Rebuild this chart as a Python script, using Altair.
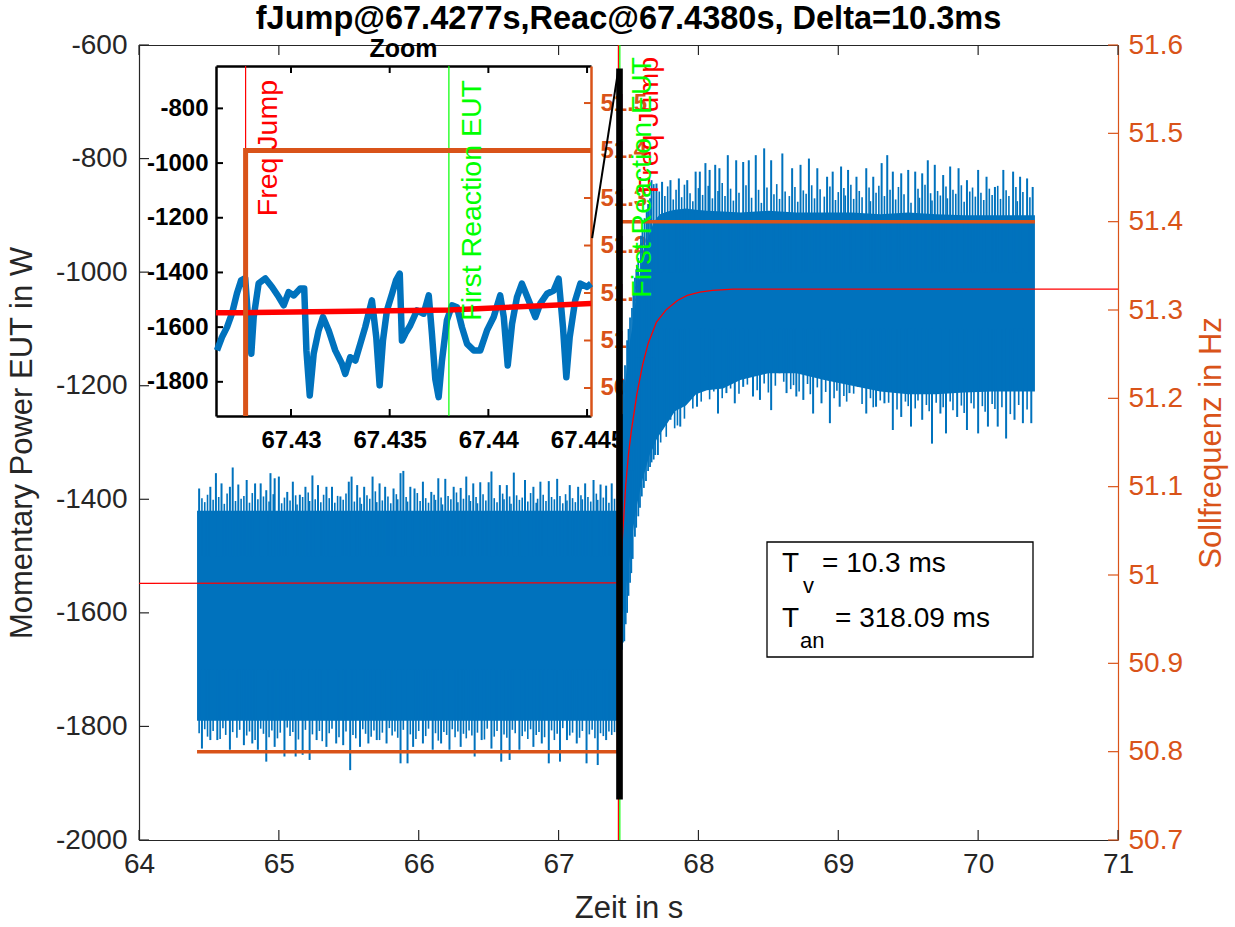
import altair as alt
import pandas as pd

# ---------------------------------------------------------------- data
TITLE = "fJump@67.4277s,Reac@67.4380s, Delta=10.3ms"
t_jump = 67.4277
t_reac = 67.4380

x_ticks = [64, 65, 66, 67, 68, 69, 70, 71]
p_ticks = [-2000, -1800, -1600, -1400, -1200, -1000, -800, -600]
f_ticks = [50.7, 50.8, 50.9, 51.0, 51.1, 51.2, 51.3, 51.4, 51.5, 51.6]

# zoom window (time, power, frequency)
zoom_t = [67.4262, 67.4452]
zoom_p = [-1925, -645]
zoom_f = [50.841, 51.578]
zoom_t_ticks = [67.43, 67.435, 67.44, 67.445]
zoom_p_ticks = [-1800, -1600, -1400, -1200, -1000, -800]
zoom_f_ticks = [50.9, 51.0, 51.1, 51.2, 51.3, 51.4, 51.5]

# measured power: dense core of the signal (upper / lower envelope)
band_t = [64.415, 67.4277, 67.446, 67.453, 67.462, 67.475, 67.49, 67.511, 67.525,
          67.546, 67.561, 67.582, 67.60, 67.618, 67.654, 67.675, 67.70, 67.725,
          67.78, 67.832, 67.911, 67.983, 68.061, 68.176, 68.3, 68.5, 68.7, 68.9,
          69.1, 69.3, 69.5, 69.7, 69.9, 70.1, 70.3, 70.406]
band_hi = [-1420, -1420, -1400, -1300, -1250, -1200, -1160, -1120, -1100, -1060,
           -1040, -1000, -975, -955, -930, -915, -905, -898, -893, -890, -888, -890,
           -892, -893, -895, -892, -895, -895, -895, -898, -895, -898, -900, -900,
           -900, -900]
band_lo = [-1790, -1790, -1700, -1620, -1600, -1580, -1540, -1500, -1470, -1430,
           -1410, -1385, -1365, -1350, -1320, -1310, -1295, -1285, -1265, -1245,
           -1235, -1215, -1208, -1205, -1190, -1178, -1178, -1190, -1200, -1210,
           -1215, -1215, -1212, -1210, -1210, -1210]

# measured power: tall peaks sticking out of the core
pre_up_t = [64.43, 64.51, 64.55, 64.59, 64.65, 64.67, 64.71, 64.77, 64.83, 64.87,
            64.91, 64.94, 64.97, 65.00, 65.06, 65.10, 65.15, 65.19, 65.24, 65.28,
            65.34, 65.38, 65.44, 65.50, 65.52, 65.56, 65.61, 65.67, 65.72, 65.76,
            65.82, 65.87, 65.89, 65.94, 65.97, 66.03, 66.09, 66.14, 66.19, 66.25,
            66.30, 66.34, 66.39, 66.44, 66.50, 66.52, 66.58, 66.63, 66.68, 66.76,
            66.82, 66.87, 66.93, 66.99, 67.08, 67.14, 67.19, 67.25, 67.30, 67.34,
            67.38]
pre_up_v = [-1381, -1378, -1354, -1372, -1378, -1344, -1374, -1366, -1372, -1372,
            -1384, -1354, -1363, -1360, -1387, -1369, -1392, -1378, -1358, -1375,
            -1378, -1378, -1395, -1369, -1360, -1375, -1378, -1360, -1372, -1378,
            -1381, -1354, -1350, -1378, -1381, -1369, -1387, -1363, -1364, -1378,
            -1380, -1360, -1372, -1370, -1370, -1351, -1375, -1375, -1353, -1366,
            -1378, -1369, -1368, -1364, -1375, -1378, -1372, -1366, -1374, -1376,
            -1372]
pre_lo_t = [64.45, 64.51, 64.56, 64.65, 64.75, 64.81, 64.85, 64.91, 64.97, 65.04,
            65.12, 65.17, 65.22, 65.27, 65.34, 65.41, 65.46, 65.51, 65.58, 65.64,
            65.70, 65.77, 65.87, 65.92, 65.96, 66.03, 66.10, 66.16, 66.22, 66.30,
            66.40, 66.45, 66.52, 66.59, 66.65, 66.72, 66.82, 66.88, 66.93, 67.01,
            67.06, 67.13, 67.20, 67.28, 67.34]
pre_lo_v = [-1839, -1824, -1824, -1841, -1833, -1830, -1841, -1862, -1836, -1853,
            -1853, -1850, -1859, -1824, -1836, -1830, -1833, -1877, -1836, -1830,
            -1824, -1830, -1865, -1865, -1836, -1830, -1841, -1830, -1841, -1836,
            -1853, -1824, -1839, -1862, -1859, -1841, -1836, -1830, -1865, -1862,
            -1824, -1830, -1865, -1868, -1824]
post_up_t = [67.70, 67.74, 67.80, 67.86, 67.92, 67.98, 68.01, 68.05, 68.08, 68.12,
             68.15, 68.21, 68.27, 68.32, 68.36, 68.41, 68.47, 68.52, 68.60, 68.67,
             68.73, 68.79, 68.85, 68.92, 68.96, 69.02, 69.07, 69.13, 69.20, 69.25,
             69.31, 69.35, 69.39, 69.45, 69.50, 69.55, 69.60, 69.64, 69.69, 69.75,
             69.80, 69.86, 69.92, 70.00, 70.06, 70.12, 70.18, 70.25, 70.30, 70.35,
             70.39]
post_up_v = [-844, -841, -838, -835, -838, -823, -823, -808, -820, -811,
             -817, -794, -803, -806, -803, -794, -782, -803, -791, -817,
             -811, -800, -817, -832, -823, -814, -820, -832, -817, -832,
             -808, -794, -823, -826, -820, -823, -826, -803, -811, -829,
             -814, -817, -838, -820, -832, -850, -820, -823, -832, -835,
             -850]
post_lo_t = [67.71, 67.74, 67.80, 67.87, 67.93, 67.99, 68.05, 68.14, 68.20, 68.26,
             68.32, 68.39, 68.44, 68.52, 68.58, 68.63, 68.70, 68.75, 68.82, 68.88,
             68.94, 69.01, 69.08, 69.14, 69.20, 69.27, 69.33, 69.39, 69.45, 69.52,
             69.60, 69.67, 69.73, 69.77, 69.85, 69.92, 70.00, 70.07, 70.14, 70.20,
             70.26, 70.32, 70.38]
post_lo_v = [-1322, -1278, -1260, -1272, -1219, -1237, -1184, -1249, -1213, -1231,
             -1202, -1219, -1225, -1243, -1178, -1213, -1219, -1225, -1249, -1231,
             -1266, -1237, -1213, -1202, -1249, -1237, -1231, -1278, -1255, -1272,
             -1260, -1302, -1249, -1284, -1255, -1278, -1284, -1272, -1272, -1293,
             -1260, -1266, -1266]

# measured power: shorter peaks in between
pre_up2_t = [64.45, 64.47, 64.49, 64.53, 64.57, 64.61, 64.63, 64.69, 64.73, 64.75,
             64.79, 64.81, 64.85, 64.89, 64.93, 64.96, 65.02, 65.04, 65.08, 65.12,
             65.13, 65.17, 65.21, 65.22, 65.26, 65.30, 65.32, 65.36, 65.40, 65.42,
             65.46, 65.48, 65.54, 65.58, 65.59, 65.63, 65.65, 65.69, 65.70, 65.74,
             65.78, 65.80, 65.84, 65.85, 65.91, 65.92, 65.99, 66.01, 66.05, 66.07,
             66.11, 66.12, 66.16, 66.17, 66.21, 66.23, 66.27, 66.28, 66.32, 66.36,
             66.37, 66.41, 66.42, 66.46, 66.48, 66.54, 66.56, 66.60, 66.61, 66.65,
             66.66, 66.70, 66.72, 66.74, 66.78, 66.80, 66.84, 66.85, 66.89, 66.91,
             66.95, 66.97, 67.01, 67.03, 67.05, 67.06, 67.10, 67.12, 67.16, 67.17,
             67.21, 67.23, 67.27, 67.28, 67.32, 67.36, 67.40]
pre_up2_v = [-1398, -1405, -1392, -1401, -1396, -1408, -1390, -1403, -1399, -1394,
             -1406, -1389, -1400, -1395, -1404, -1391, -1407, -1397, -1402, -1393,
             -1409, -1396, -1388, -1403, -1400, -1405, -1392, -1398, -1406, -1394,
             -1401, -1390, -1404, -1397, -1408, -1393, -1399, -1386, -1405, -1402,
             -1395, -1407, -1391, -1400, -1396, -1404, -1389, -1403, -1398, -1406,
             -1392, -1401, -1397, -1409, -1394, -1400, -1388, -1405, -1399, -1393,
             -1403, -1396, -1407, -1391, -1402, -1398, -1405, -1390, -1400, -1395,
             -1408, -1393, -1401, -1397, -1404, -1389, -1406, -1399, -1392, -1403,
             -1396, -1400, -1394, -1407, -1391, -1402, -1398, -1405, -1393, -1400,
             -1396, -1404, -1390, -1401, -1397, -1406, -1399]
pre_lo2_t = [64.43, 64.47, 64.49, 64.53, 64.58, 64.60, 64.62, 64.67, 64.70, 64.72,
             64.77, 64.79, 64.83, 64.87, 64.89, 64.93, 64.95, 64.99, 65.01, 65.06,
             65.08, 65.10, 65.14, 65.19, 65.24, 65.29, 65.31, 65.36, 65.38, 65.43,
             65.48, 65.53, 65.55, 65.60, 65.62, 65.66, 65.68, 65.72, 65.74, 65.79,
             65.81, 65.83, 65.85, 65.89, 65.94, 65.98, 66.00, 66.05, 66.07, 66.12,
             66.14, 66.18, 66.20, 66.24, 66.26, 66.28, 66.32, 66.34, 66.36, 66.38,
             66.42, 66.47, 66.49, 66.54, 66.56, 66.61, 66.63, 66.67, 66.69, 66.74,
             66.76, 66.78, 66.80, 66.84, 66.86, 66.90, 66.95, 66.97, 66.99, 67.03,
             67.08, 67.10, 67.15, 67.17, 67.22, 67.24, 67.26, 67.30, 67.32, 67.36,
             67.38, 67.40]
pre_lo2_v = [-1812, -1805, -1818, -1808, -1822, -1803, -1815, -1810, -1820, -1806,
             -1816, -1809, -1824, -1804, -1813, -1819, -1807, -1821, -1811, -1802,
             -1817, -1810, -1823, -1806, -1814, -1808, -1826, -1812, -1804, -1819,
             -1809, -1815, -1821, -1805, -1813, -1818, -1807, -1824, -1811, -1803,
             -1816, -1809, -1820, -1806, -1814, -1822, -1808, -1817, -1804, -1812,
             -1825, -1810, -1815, -1805, -1819, -1809, -1813, -1821, -1807, -1816,
             -1811, -1823, -1804, -1818, -1808, -1814, -1820, -1806, -1812, -1817,
             -1809, -1822, -1805, -1815, -1810, -1819, -1807, -1824, -1813, -1803,
             -1816, -1811, -1820, -1808, -1814, -1806, -1821, -1812, -1817, -1809,
             -1815, -1810]
post_up2_t = [67.72, 67.76, 67.78, 67.82, 67.84, 67.88, 67.90, 67.94, 67.96, 68.00,
              68.03, 68.07, 68.10, 68.14, 68.17, 68.19, 68.23, 68.25, 68.29, 68.34,
              68.38, 68.43, 68.45, 68.49, 68.54, 68.56, 68.58, 68.62, 68.65, 68.69,
              68.71, 68.75, 68.77, 68.81, 68.83, 68.87, 68.90, 68.94, 68.98, 69.00,
              69.04, 69.05, 69.09, 69.11, 69.15, 69.17, 69.22, 69.23, 69.27, 69.29,
              69.33, 69.37, 69.41, 69.43, 69.47, 69.52, 69.57, 69.58, 69.62, 69.66,
              69.67, 69.71, 69.73, 69.77, 69.78, 69.82, 69.84, 69.88, 69.90, 69.94,
              69.96, 69.98, 70.02, 70.04, 70.08, 70.10, 70.14, 70.16, 70.20, 70.22,
              70.27, 70.28, 70.32, 70.37]
post_up2_v = [-858, -866, -849, -872, -855, -868, -846, -861, -875, -852,
              -864, -848, -870, -857, -843, -866, -853, -874, -860, -847,
              -869, -855, -878, -851, -863, -845, -871, -858, -866, -850,
              -876, -856, -862, -847, -870, -854, -867, -849, -873, -859,
              -852, -865, -846, -871, -857, -868, -851, -875, -860, -848,
              -866, -855, -872, -850, -863, -878, -853, -869, -846, -861,
              -874, -857, -865, -849, -870, -855, -862, -847, -876, -858,
              -851, -867, -860, -873, -853, -864, -848, -871, -856, -866,
              -850, -875, -859, -868]
post_lo2_t = [67.73, 67.77, 67.83, 67.85, 67.90, 67.96, 68.02, 68.08, 68.11, 68.17,
              68.23, 68.29, 68.35, 68.42, 68.47, 68.50, 68.55, 68.61, 68.66, 68.68,
              68.72, 68.78, 68.80, 68.85, 68.91, 68.97, 68.99, 69.04, 69.06, 69.11,
              69.17, 69.23, 69.25, 69.30, 69.36, 69.42, 69.48, 69.50, 69.55, 69.57,
              69.63, 69.65, 69.70, 69.75, 69.80, 69.82, 69.88, 69.90, 69.95, 69.97,
              70.03, 70.05, 70.10, 70.12, 70.17, 70.23, 70.29, 70.35]
post_lo2_v = [-1300, -1290, -1275, -1270, -1258, -1240, -1228, -1224, -1210, -1222,
              -1205, -1214, -1198, -1208, -1196, -1212, -1200, -1193, -1206, -1199,
              -1210, -1197, -1215, -1203, -1211, -1222, -1209, -1218, -1228, -1214,
              -1232, -1222, -1238, -1226, -1230, -1242, -1228, -1236, -1240, -1226,
              -1234, -1245, -1230, -1238, -1228, -1243, -1235, -1248, -1231, -1240,
              -1236, -1246, -1232, -1241, -1238, -1250, -1234, -1242]

# measured power: peaks during the ramp after the jump
ramp_up_t = [67.455, 67.465, 67.475, 67.49, 67.50, 67.511, 67.525, 67.535, 67.546, 67.556]
ramp_up_v = [-1250, -1190, -1164, -1120, -1100, -1080, -1063, -1040, -1010, -995]
ramp_up2_t = [67.561, 67.57, 67.589, 67.60, 67.615, 67.63, 67.64, 67.654, 67.665, 67.68]
ramp_up2_v = [-987, -975, -936, -925, -905, -890, -880, -870, -838, -845]
ramp_lo_t = [67.453, 67.46, 67.47, 67.48, 67.49, 67.50, 67.511, 67.52, 67.53]
ramp_lo_v = [-1665, -1652, -1650, -1620, -1600, -1570, -1547, -1530, -1505]
ramp_lo2_t = [67.546, 67.555, 67.57, 67.582, 67.595, 67.61, 67.625, 67.64, 67.654, 67.665, 67.68, 67.69]
ramp_lo2_v = [-1466, -1450, -1430, -1415, -1395, -1380, -1368, -1350, -1343, -1335, -1330, -1322]

# measured power around the jump (zoomed trace)
zoom_trace_t = [67.42625, 67.42650, 67.42676, 67.42701, 67.42726, 67.42747, 67.42768,
                67.42786, 67.42799, 67.42811, 67.42836, 67.42870, 67.42904, 67.42938,
                67.42963, 67.42988, 67.43014, 67.43047, 67.43067, 67.43078, 67.43095,
                67.43115, 67.43140, 67.43162, 67.43191, 67.43224, 67.43258, 67.43275,
                67.43300, 67.43326, 67.43351, 67.43376, 67.43410, 67.43432, 67.43449,
                67.43466, 67.43486, 67.43512, 67.43532, 67.43551, 67.43562, 67.43579,
                67.43604, 67.43638, 67.43672, 67.43698, 67.43714, 67.43731, 67.43748,
                67.43765, 67.43790, 67.43816, 67.43841, 67.43866, 67.43892, 67.43926,
                67.43959, 67.43993, 67.44027, 67.44060, 67.44078, 67.44098, 67.44120,
                67.44145, 67.44170, 67.44204, 67.44238, 67.44263, 67.44297, 67.44331,
                67.44356, 67.44378, 67.44395, 67.44412, 67.44440, 67.44466, 67.44499,
                67.44520]
zoom_trace_p = [-1685, -1637, -1600, -1550, -1477, -1429, -1421, -1600, -1697, -1563,
                -1440, -1422, -1453, -1490, -1520, -1472, -1484, -1459, -1459, -1685,
                -1850, -1697, -1612, -1563, -1612, -1685, -1734, -1771, -1710, -1722,
                -1661, -1600, -1502, -1637, -1813, -1649, -1539, -1478, -1429, -1404,
                -1649, -1624, -1594, -1539, -1551, -1484, -1624, -1789, -1856, -1722,
                -1575, -1520, -1527, -1600, -1661, -1685, -1685, -1612, -1563, -1484,
                -1563, -1740, -1588, -1490, -1441, -1502, -1563, -1514, -1478, -1466,
                -1423, -1600, -1783, -1637, -1502, -1441, -1453, -1441]

# expected power response (setpoint curve)
sp_t = [64.0, 67.4262, 67.4277, 67.438, 67.4452, 67.46, 67.48, 67.50, 67.52, 67.56,
        67.60, 67.64, 67.70, 67.77, 67.85, 67.92, 68.01, 68.10, 68.25, 71.0]
sp_p = [-1548, -1547, -1547, -1537, -1514, -1455, -1375, -1320, -1280, -1215,
        -1164, -1126, -1088, -1066, -1050, -1041, -1035, -1032, -1030, -1030]

# frequency setpoint step
f_t = [64.415, 67.4277, 67.4277, 70.406]
f_v = [50.8, 50.8, 51.4, 51.4]

# line from the zoom panel to the marked time window
link_t = [67.24, 67.4262]
link_p = [-940, -645]

# ---------------------------------------------------------------- style
BLUE, ORANGE, RED, GREEN, DARK = "#0072BD", "#D95319", "#FF0000", "#00FF00", "#262626"
FONT = "Liberation Sans"
W, H = 979, 795                        # plot area
IX0, IX1, IY0, IY1 = 77, 452, 21, 371  # zoom panel inside the plot area

NEG = "datum.value < 0 ? '-' + format(-datum.value, 'd') : format(datum.value, 'd')"


def s_main_t():
    return alt.Scale(domain=[64, 71], nice=False, zero=False)


def s_main_p():
    return alt.Scale(domain=[-2000, -600], nice=False, zero=False)


def s_main_f():
    return alt.Scale(domain=[50.7, 51.6], nice=False, zero=False)


def s_zoom_t():
    return alt.Scale(domain=zoom_t, range=[IX0, IX1], nice=False, zero=False, clamp=True)


def s_zoom_p():
    return alt.Scale(domain=zoom_p, range=[IY1, IY0], nice=False, zero=False, clamp=True)


def s_zoom_f():
    return alt.Scale(domain=zoom_f, range=[IY1, IY0], nice=False, zero=False, clamp=True)


common = dict(ticks=False, grid=False, labelFont=FONT, labelOverlap=False, labelFlush=False)

ax_x = alt.Axis(orient="bottom", values=x_ticks, format="d", domainColor=DARK, domainWidth=1.2,
                labelFontSize=28, labelColor=DARK, labelPadding=10,
                title="Zeit in s", titleFont=FONT, titleFontSize=31, titleFontWeight="normal",
                titleColor=DARK, titlePadding=15, **common)
ax_y = alt.Axis(orient="left", values=p_ticks, labelExpr=NEG, domainColor=DARK, domainWidth=1.2,
                labelFontSize=28, labelColor=DARK, labelPadding=12,
                title="Momentary Power EUT in W", titleFont=FONT, titleFontSize=31,
                titleFontWeight="normal", titleColor=DARK, titlePadding=17, **common)
ax_top = alt.Axis(orient="top", labels=False, domainColor=DARK, domainWidth=1.2,
                  ticks=False, grid=False, title="")
ax_right = alt.Axis(orient="right", values=f_ticks, format="~g", domainColor=ORANGE, domainWidth=1.2,
                    labelFontSize=28, labelColor=ORANGE, labelPadding=10,
                    title="Sollfrequenz in Hz", titleFont=FONT, titleFontSize=31,
                    titleFontWeight="normal", titleColor=ORANGE, titleAngle=270,
                    titleBaseline="top", titlePadding=14, **common)

zcommon = dict(labelFontSize=24, labelFontWeight="bold", title="", domainWidth=2.5, **common)
ax_zx = alt.Axis(orient="bottom", offset=-(H - IY1), values=zoom_t_ticks, format="~g",
                 domainColor="black", labelColor="black", labelPadding=12, **zcommon)
ax_zy = alt.Axis(orient="left", offset=-IX0, values=zoom_p_ticks, labelExpr=NEG,
                 domainColor="black", labelColor="black", labelPadding=8, **zcommon)
ax_ztop = alt.Axis(orient="top", offset=-IY0, labels=False, domainColor="black", domainWidth=2.5,
                   ticks=False, grid=False, title="")
ax_zr = alt.Axis(orient="right", offset=-(W - IX1), values=zoom_f_ticks, format="~g",
                 domainColor=ORANGE, labelColor=ORANGE, labelPadding=9, **zcommon)

# ---------------------------------------------------------------- frames
band_df = pd.DataFrame({"t": band_t, "hi": band_hi, "lo": band_lo})
# each group of peaks is drawn from its tip back into the core of the band
peak_groups = [
    (pre_up_t, pre_up_v, -1500, 2.0), (pre_lo_t, pre_lo_v, -1700, 2.0),
    (post_up_t, post_up_v, -1000, 2.0), (post_lo_t, post_lo_v, -1100, 2.0),
    (pre_up2_t, pre_up2_v, -1500, 1.6), (pre_lo2_t, pre_lo2_v, -1700, 1.6),
    (post_up2_t, post_up2_v, -1000, 1.6), (post_lo2_t, post_lo2_v, -1100, 1.6),
    (ramp_up_t, ramp_up_v, -1350, 1.8), (ramp_up2_t, ramp_up2_v, -1150, 1.8),
    (ramp_lo_t, ramp_lo_v, -1350, 1.8), (ramp_lo2_t, ramp_lo2_v, -1150, 1.8),
]
spk = pd.concat([pd.DataFrame({"t": t, "tip": v, "base": b, "w": w})
                 for t, v, b, w in peak_groups])
sp_df = pd.DataFrame({"t": sp_t, "p": sp_p})
f_df = pd.DataFrame({"t": f_t, "f": f_v, "i": range(len(f_t))})
ev_df = pd.DataFrame({"t": [t_jump, t_reac], "c": [RED, GREEN]})
zoom_df = pd.DataFrame({"t": zoom_trace_t, "p": zoom_trace_p})
win_df = pd.DataFrame({"t0": [zoom_t[0]], "t1": [zoom_t[1]], "p0": [zoom_p[0]], "p1": [zoom_p[1]]})
link_df = pd.DataFrame({"ta": [link_t[0]], "tb": [link_t[1]], "pa": [link_p[0]], "pb": [link_p[1]]})
one = pd.DataFrame({"k": [0]})


def tick_df(v):
    return pd.DataFrame({"v": v})


def label(text, x, y, size=28, weight="normal", color="black", align="left"):
    return alt.Chart(one).mark_text(text=text, font=FONT, fontSize=size, fontWeight=weight,
                                    color=color, align=align, baseline="alphabetic").encode(
        x=alt.value(x), y=alt.value(y))


def event_text(text, t, color, dy, y, scale):
    return alt.Chart(pd.DataFrame({"t": [t]})).mark_text(
        text=text, font=FONT, fontSize=28.5, color=color, angle=270, align="right",
        baseline="top", dy=dy).encode(x=alt.X("t:Q", scale=scale, axis=None), y=alt.value(y))


# ---------------------------------------------------------------- main panel
band = alt.Chart(band_df).mark_area(color=BLUE).encode(
    x=alt.X("t:Q", scale=s_main_t(), axis=ax_x),
    y=alt.Y("hi:Q", scale=s_main_p(), axis=ax_y), y2="lo:Q")
spikes = alt.Chart(spk).mark_rule(color=BLUE).encode(
    x=alt.X("t:Q", scale=s_main_t(), axis=None),
    y=alt.Y("tip:Q", scale=s_main_p(), axis=None), y2="base:Q",
    strokeWidth=alt.StrokeWidth("w:Q", scale=None))
setpoint = alt.Chart(sp_df).mark_line(color=RED, strokeWidth=1.3).encode(
    x=alt.X("t:Q", scale=s_main_t(), axis=None), y=alt.Y("p:Q", scale=s_main_p(), axis=None))
events = alt.Chart(ev_df).mark_rule(strokeWidth=1.2).encode(
    x=alt.X("t:Q", scale=s_main_t(), axis=None), color=alt.Color("c:N", scale=None))
tk_b = alt.Chart(tick_df(x_ticks)).mark_rule(color=DARK, strokeWidth=1.2).encode(
    x=alt.X("v:Q", scale=s_main_t(), axis=None), y=alt.value(H), y2=alt.value(H - 10))
tk_t = alt.Chart(tick_df(x_ticks)).mark_rule(color=DARK, strokeWidth=1.2).encode(
    x=alt.X("v:Q", scale=s_main_t(), axis=None), y=alt.value(0), y2=alt.value(10))
tk_l = alt.Chart(tick_df(p_ticks)).mark_rule(color=DARK, strokeWidth=1.2).encode(
    y=alt.Y("v:Q", scale=s_main_p(), axis=None), x=alt.value(0), x2=alt.value(10))
title = label(TITLE, W / 2, -16, size=32.5, weight="bold", align="center")
box = alt.Chart(one).mark_rect(fill="white", stroke="black", strokeWidth=1.3).encode(
    x=alt.value(628), x2=alt.value(894), y=alt.value(497), y2=alt.value(612))
box_txt = [
    label("T", 643, 527), label("v", 664, 548, size=22), label("= 10.3 ms", 683, 527),
    label("T", 643, 582), label("an", 661, 603, size=22), label("= 318.09 ms", 696, 582),
]
fstep = alt.Chart(f_df).mark_line(color=ORANGE, strokeWidth=3.5).encode(
    x=alt.X("t:Q", scale=s_main_t(), axis=ax_top),
    y=alt.Y("f:Q", scale=s_main_f(), axis=ax_right), order="i:Q")
tk_r = alt.Chart(tick_df(f_ticks)).mark_rule(color=ORANGE, strokeWidth=1.2).encode(
    y=alt.Y("v:Q", scale=s_main_f(), axis=None), x=alt.value(W), x2=alt.value(W - 10))
window = alt.Chart(win_df).mark_rect(fillOpacity=0, stroke="black", strokeWidth=4).encode(
    x=alt.X("t0:Q", scale=s_main_t(), axis=None), x2="t1:Q",
    y=alt.Y("p0:Q", scale=s_main_p(), axis=None), y2="p1:Q")
link = alt.Chart(link_df).mark_rule(color="black", strokeWidth=2).encode(
    x=alt.X("ta:Q", scale=s_main_t(), axis=None), x2="tb:Q",
    y=alt.Y("pa:Q", scale=s_main_p(), axis=None), y2="pb:Q")
txt_jump = event_text("Freq Jump", t_jump, RED, 17, 12, s_main_t())
txt_reac = event_text("First Reaction EUT", t_reac, GREEN, 8, 12, s_main_t())

# ---------------------------------------------------------------- zoom panel
ztrace = alt.Chart(zoom_df).mark_line(color=BLUE, strokeWidth=6.5, strokeJoin="round").encode(
    x=alt.X("t:Q", scale=s_zoom_t(), axis=ax_zx), y=alt.Y("p:Q", scale=s_zoom_p(), axis=ax_zy))
zset = alt.Chart(sp_df).transform_filter(
    (alt.datum.t >= zoom_t[0]) & (alt.datum.t <= zoom_t[1])
).mark_line(color=RED, strokeWidth=5.5).encode(
    x=alt.X("t:Q", scale=s_zoom_t(), axis=None), y=alt.Y("p:Q", scale=s_zoom_p(), axis=None))
zev = alt.Chart(ev_df).mark_rule(strokeWidth=1.2).encode(
    x=alt.X("t:Q", scale=s_zoom_t(), axis=None), y=alt.value(IY0), y2=alt.value(IY1),
    color=alt.Color("c:N", scale=None))
ztk_b = alt.Chart(tick_df(zoom_t_ticks)).mark_rule(color="black", strokeWidth=2).encode(
    x=alt.X("v:Q", scale=s_zoom_t(), axis=None), y=alt.value(IY1), y2=alt.value(IY1 - 7))
ztk_t = alt.Chart(tick_df(zoom_t_ticks)).mark_rule(color="black", strokeWidth=2).encode(
    x=alt.X("v:Q", scale=s_zoom_t(), axis=None), y=alt.value(IY0), y2=alt.value(IY0 + 7))
ztk_l = alt.Chart(tick_df(zoom_p_ticks)).mark_rule(color="black", strokeWidth=2).encode(
    y=alt.Y("v:Q", scale=s_zoom_p(), axis=None), x=alt.value(IX0), x2=alt.value(IX0 + 7))
ztitle = label("Zoom", (IX0 + IX1) / 2, 12, size=25, weight="bold", align="center")
zstep = alt.Chart(f_df).transform_filter(alt.datum.t >= zoom_t[0]).mark_line(
    color=ORANGE, strokeWidth=5).encode(
    x=alt.X("t:Q", scale=s_zoom_t(), axis=ax_ztop),
    y=alt.Y("f:Q", scale=s_zoom_f(), axis=ax_zr), order="i:Q")
ztk_r = alt.Chart(tick_df(zoom_f_ticks)).mark_rule(color=ORANGE, strokeWidth=2).encode(
    y=alt.Y("v:Q", scale=s_zoom_f(), axis=None), x=alt.value(IX1), x2=alt.value(IX1 - 7))
ztxt_jump = event_text("Freq Jump", t_jump, RED, 8, 35, s_zoom_t())
ztxt_reac = event_text("First Reaction EUT", t_reac, GREEN, 9, 35, s_zoom_t())

chart = alt.layer(
    band, spikes, setpoint, events, tk_b, tk_t, tk_l, title, box, *box_txt,
    fstep, tk_r, window, link, txt_jump, txt_reac,
    ztrace, zset, zev, ztk_b, ztk_t, ztk_l, ztitle, zstep, ztk_r, ztxt_jump, ztxt_reac,
).resolve_scale(
    x="independent", y="independent"
).properties(
    width=W, height=H,
    autosize=alt.AutoSizeParams(type="none"),
    padding={"left": 139, "top": 45, "right": 117, "bottom": 87},
    background="white",
).configure_view(stroke=None)

chart.save("out.html", embed_options={"renderer": "svg", "actions": False})
